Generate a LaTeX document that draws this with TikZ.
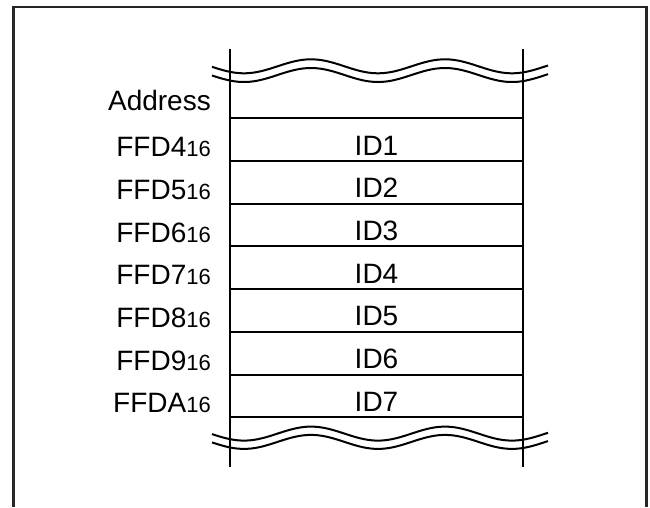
\documentclass[tikz,border=0pt]{standalone}
\usepackage{fontspec}
\setmainfont{Liberation Sans}
\newcommand\labelsize{\fontsize{28}{31}\selectfont}
\newcommand\subsize{\fontsize{22}{25}\selectfont}
\newcommand\hexaddr[1]{#1{\subsize 16}}
\tikzset{
  memline/.style={line width=2pt},
  breakline/.style={line width=2pt, smooth, samples=90},
  addrlabel/.style={anchor=base east, inner sep=0pt, font=\labelsize},
  idlabel/.style={anchor=base, inner sep=0pt, font=\labelsize},
}

\begin{document}
\begin{tikzpicture}[x=1pt, y=-1pt]
  \useasboundingbox (0,0) rectangle (650,507);
  % outer frame, open at the bottom
  \draw[line width=2.6pt, black!85] (13.5,507) -- (13.5,7) -- (646.5,7) -- (646.5,507);
  % column edges
  \coordinate (topL) at (230,49);
  \coordinate (botL) at (230,467);
  \coordinate (topR) at (523,49);
  \coordinate (botR) at (523,467);
  \draw[memline] (topL) -- (botL);
  \draw[memline] (topR) -- (botR);
  % cell borders
  \foreach \k in {0,...,7}{
    \coordinate (cl\k) at (230,118.3+42.7*\k);
    \coordinate (cr\k) at (523,118.3+42.7*\k);
    \draw[memline] (cl\k) -- (cr\k);
  }
  % break marks, top and bottom
  \foreach \yo in {0,8.7,367.3,375.6}{
    \draw[breakline] plot[domain=212:548] (\x,{66.3+\yo+7*cos((\x-244)/134*360)});
  }
  % labels
  \node[addrlabel] (addr) at (211,110) {Address};
  \foreach \d [count=\n] in {4,5,6,7,8,9,A}{
    \node[addrlabel] (a\n) at (211,156.7+42.7*\n-42.7) {\hexaddr{FFD\d}};
    \node[idlabel] (id\n) at (376.5,155+42.7*\n-42.7) {ID\n};
  }
\end{tikzpicture}
\end{document}
